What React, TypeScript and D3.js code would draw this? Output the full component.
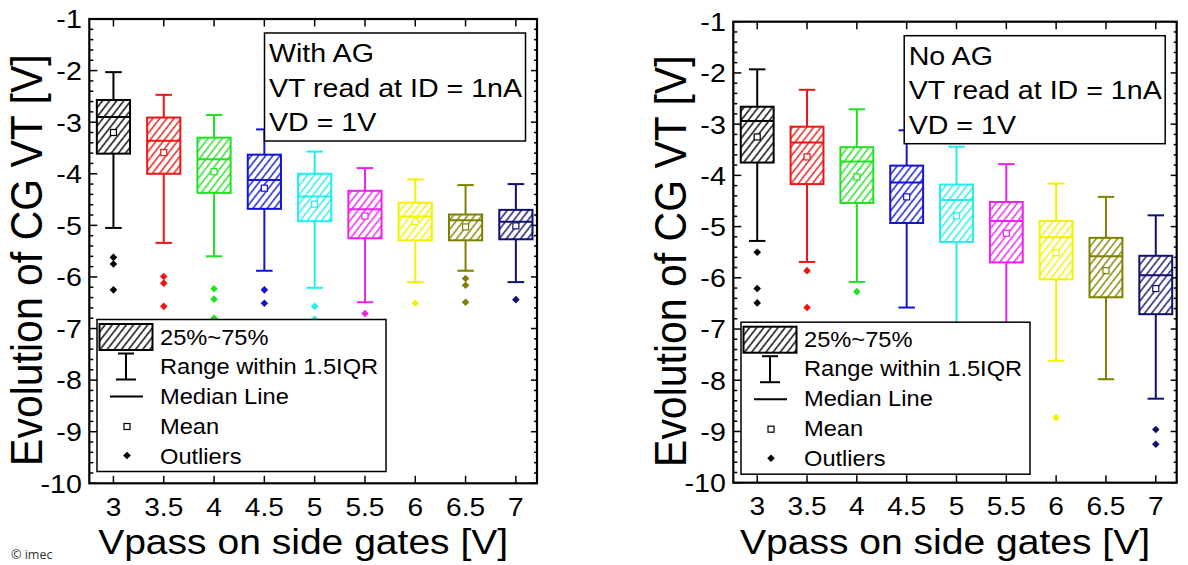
import React from 'react';
import * as d3 from 'd3';

// categories (Vpass on side gates, V)
const categories = [3, 3.5, 4, 4.5, 5, 5.5, 6, 6.5, 7];
const yTicks = [-1, -2, -3, -4, -5, -6, -7, -8, -9, -10];
const colors = ['#000000', '#ee1515', '#22e022', '#1414d2', '#22eeee', '#ee22ee', '#f2f200', '#808000', '#101070'];

// With AG
const agHigh = [-2.03, -2.47, -2.86, -3.14, -3.57, -3.89, -4.11, -4.22, -4.2];
const agQ3 = [-2.57, -2.91, -3.3, -3.63, -4.0, -4.33, -4.56, -4.79, -4.7];
const agMedian = [-2.9, -3.36, -3.72, -4.12, -4.44, -4.69, -4.83, -4.9, -4.93];
const agMean = [-3.2, -3.59, -3.96, -4.28, -4.59, -4.82, -4.93, -5.03, -5.01];
const agQ1 = [-3.61, -4.0, -4.37, -4.68, -4.92, -5.25, -5.29, -5.29, -5.27];
const agLow = [-5.05, -5.34, -5.6, -5.88, -6.21, -6.49, -6.1, -5.88, -6.1];
const agOutliers = [
  [-5.62, -5.75, -6.25],
  [-5.99, -6.12, -6.57],
  [-6.23, -6.43, -6.8],
  [-6.25, -6.51],
  [-6.57, -6.82],
  [-6.71],
  [-6.51],
  [-6.03, -6.16, -6.49],
  [-6.44],
];

// No AG
const noHigh = [-1.93, -2.33, -2.71, -3.12, -3.44, -3.78, -4.16, -4.42, -4.78];
const noQ3 = [-2.66, -3.05, -3.45, -3.81, -4.18, -4.52, -4.89, -5.22, -5.57];
const noMedian = [-2.94, -3.36, -3.73, -4.14, -4.48, -4.89, -5.21, -5.58, -5.95];
const noMean = [-3.25, -3.64, -4.03, -4.42, -4.79, -5.13, -5.51, -5.86, -6.21];
const noQ1 = [-3.75, -4.17, -4.54, -4.93, -5.3, -5.7, -6.03, -6.38, -6.71];
const noLow = [-5.28, -5.69, -6.08, -6.58, -7.4, -7.1, -7.62, -7.98, -8.36];
const noOutliers = [[-5.5, -6.21, -6.49], [-5.86, -6.58], [-6.27], [], [], [], [-8.73], [], [-8.96, -9.25]];

const legendLabels = ['25%~75%', 'Range within 1.5IQR', 'Median Line', 'Mean', 'Outliers'];

const FONT = '"Liberation Sans", Arial, sans-serif';
const SX = 1.1; // the picture is a bit wider than tall

// stretched text helper
const T = ({ x, y, size, anchor = 'start', rotate = 0, children, fill = '#000', dy }: any) => (
  <text
    transform={`translate(${x},${y}) scale(${SX},1)${rotate ? ` rotate(${rotate})` : ''}`}
    fontFamily={FONT}
    fontSize={size}
    textAnchor={anchor}
    fill={fill}
    dy={dy}
  >
    {children}
  </text>
);

const diamond = (cx: number, cy: number, r: number) =>
  `M${cx},${cy - r}L${cx + r},${cy}L${cx},${cy + r}L${cx - r},${cy}Z`;

interface PanelProps {
  id: string;
  frame: { l: number; r: number; t: number; b: number };
  high: number[];
  q3: number[];
  median: number[];
  mean: number[];
  q1: number[];
  low: number[];
  outliers: number[][];
  note: string[];
  labelX: number;
}

const Panel = ({ id, frame, high, q3, median, mean, q1, low, outliers, note, labelX }: PanelProps) => {
  const x = d3.scaleLinear().domain([2.76, 7.21]).range([frame.l, frame.r]);
  const y = d3.scaleLinear().domain([-1, -10]).range([frame.t, frame.b]);
  const bw = (x(3.33) - x(3)) / 2;
  const cap = bw / 2;
  const minor = d3.range(-10, -0.99, 0.2).map((v) => Math.round(v * 10) / 10);

  const noteL = frame.r - 11.5 - 261;
  const noteT = frame.t + 14;
  const legL = frame.l + 7.7;
  const legT = frame.t + 300.5;
  const rows = [25, 54, 84, 114, 144];

  return (
    <g>
      <defs>
        {colors.map((c, i) => (
          <pattern
            key={i}
            id={`${id}-h${i}`}
            patternUnits="userSpaceOnUse"
            width={5.6}
            height={5.6}
            patternTransform="rotate(38)"
          >
            <rect width={5.6} height={5.6} fill="#fff" />
            <line x1={2.8} y1={0} x2={2.8} y2={5.6} stroke={c} strokeWidth={1.4} />
          </pattern>
        ))}
        <pattern id={`${id}-hleg`} patternUnits="userSpaceOnUse" width={5.6} height={5.6} patternTransform="rotate(38)">
          <rect width={5.6} height={5.6} fill="#fff" />
          <line x1={2.8} y1={0} x2={2.8} y2={5.6} stroke="#000" strokeWidth={1.4} />
        </pattern>
      </defs>

      {/* ticks */}
      {minor.map((v) => {
        const major = Math.abs(v - Math.round(v)) < 1e-6;
        return (
          <g key={v} stroke="#000" strokeWidth={1.5}>
            <line x1={frame.l} x2={frame.l + (major ? 8 : 4)} y1={y(v)} y2={y(v)} />
            <line x1={frame.r} x2={frame.r - (major ? 6 : 3)} y1={y(v)} y2={y(v)} />
          </g>
        );
      })}
      {categories.map((c) => (
        <g key={c} stroke="#000" strokeWidth={1.5}>
          <line x1={x(c)} x2={x(c)} y1={frame.t} y2={frame.t + 7.5} />
          <line x1={x(c)} x2={x(c)} y1={frame.b} y2={frame.b - 7.5} />
        </g>
      ))}
      {yTicks.map((v) => (
        <T key={v} x={frame.l - 7.5} y={y(v)} size={26} anchor="end" dy="0.36em">
          {v}
        </T>
      ))}
      {categories.map((c) => (
        <T key={c} x={x(c)} y={frame.b + 32.5} size={25.5} anchor="middle">
          {c}
        </T>
      ))}

      {/* boxes */}
      {categories.map((c, i) => {
        const cx = x(c);
        const col = colors[i];
        return (
          <g key={c}>
            <line x1={cx} x2={cx} y1={y(high[i])} y2={y(q3[i])} stroke={col} strokeWidth={2} />
            <line x1={cx} x2={cx} y1={y(q1[i])} y2={y(low[i])} stroke={col} strokeWidth={2} />
            <line x1={cx - cap} x2={cx + cap} y1={y(high[i])} y2={y(high[i])} stroke={col} strokeWidth={2} />
            <line x1={cx - cap} x2={cx + cap} y1={y(low[i])} y2={y(low[i])} stroke={col} strokeWidth={2} />
            <rect
              x={cx - bw}
              y={y(q3[i])}
              width={bw * 2}
              height={y(q1[i]) - y(q3[i])}
              fill={`url(#${id}-h${i})`}
              stroke={col}
              strokeWidth={2}
            />
            <line x1={cx - bw} x2={cx + bw} y1={y(median[i])} y2={y(median[i])} stroke={col} strokeWidth={2} />
            <rect x={cx - 3} y={y(mean[i]) - 3} width={6} height={6} fill="#fff" stroke={col} strokeWidth={1.2} />
            {outliers[i].map((o, j) => (
              <path key={j} d={diamond(cx, y(o), 3.8)} fill={col} />
            ))}
          </g>
        );
      })}

      {/* note box */}
      <rect x={noteL} y={noteT} width={261} height={108} fill="#fff" stroke="#000" strokeWidth={1.5} />
      {note.map((s, i) => (
        <T key={i} x={noteL + 4.5} y={noteT + 29 + i * 34.5} size={26}>
          {s}
        </T>
      ))}

      {/* legend */}
      <rect x={legL} y={legT} width={289} height={152} fill="#fff" stroke="#000" strokeWidth={1.5} />
      <rect x={legL + 2.5} y={legT + 4.5} width={53} height={26} fill={`url(#${id}-hleg)`} stroke="#000" strokeWidth={2} />
      <g stroke="#000" strokeWidth={2}>
        <line x1={legL + 29} x2={legL + 29} y1={legT + 34} y2={legT + 60} />
        <line x1={legL + 21} x2={legL + 37} y1={legT + 34} y2={legT + 34} />
        <line x1={legL + 19} x2={legL + 39} y1={legT + 60} y2={legT + 60} />
        <line x1={legL + 13} x2={legL + 46} y1={legT + 77} y2={legT + 77} />
      </g>
      <rect x={legL + 27} y={legT + 104} width={6} height={6} fill="#fff" stroke="#000" strokeWidth={1.2} />
      <path d={diamond(legL + 30, legT + 136, 3.8)} fill="#000" />
      {legendLabels.map((s, i) => (
        <T key={s} x={legL + 63} y={legT + rows[i]} size={21.5}>
          {s}
        </T>
      ))}

      {/* frame */}
      <rect x={frame.l} y={frame.t} width={frame.r - frame.l} height={frame.b - frame.t} fill="none" stroke="#000" strokeWidth={2.2} />

      {/* axis titles */}
      <T x={(frame.l + frame.r) / 2 - 10} y={554} size={35.5} anchor="middle">
        Vpass on side gates [V]
      </T>
      <T x={labelX} y={(frame.t + frame.b) / 2 + 9} size={41} anchor="middle" rotate={-90}>
        Evolution of CG VT [V]
      </T>
    </g>
  );
};

export default function App() {
  return (
    <svg width={1188} height={565} style={{ position: 'absolute', left: 0, top: 0, background: '#fff' }}>
      <rect width={1188} height={565} fill="#fff" />
      <Panel
        id="ag"
        frame={{ l: 89.3, r: 537, t: 19, b: 483.3 }}
        high={agHigh}
        q3={agQ3}
        median={agMedian}
        mean={agMean}
        q1={agQ1}
        low={agLow}
        outliers={agOutliers}
        note={['With AG', 'VT read at ID = 1nA', 'VD = 1V']}
        labelX={42}
      />
      <Panel
        id="no"
        frame={{ l: 733.3, r: 1176.7, t: 21.7, b: 482.7 }}
        high={noHigh}
        q3={noQ3}
        median={noMedian}
        mean={noMean}
        q1={noQ1}
        low={noLow}
        outliers={noOutliers}
        note={['No AG', 'VT read at ID = 1nA', 'VD = 1V']}
        labelX={686}
      />
      <text x={11} y={559} fontFamily='"Open Sans", sans-serif' fontSize={12.5} fill="#333">
        © imec
      </text>
    </svg>
  );
}
